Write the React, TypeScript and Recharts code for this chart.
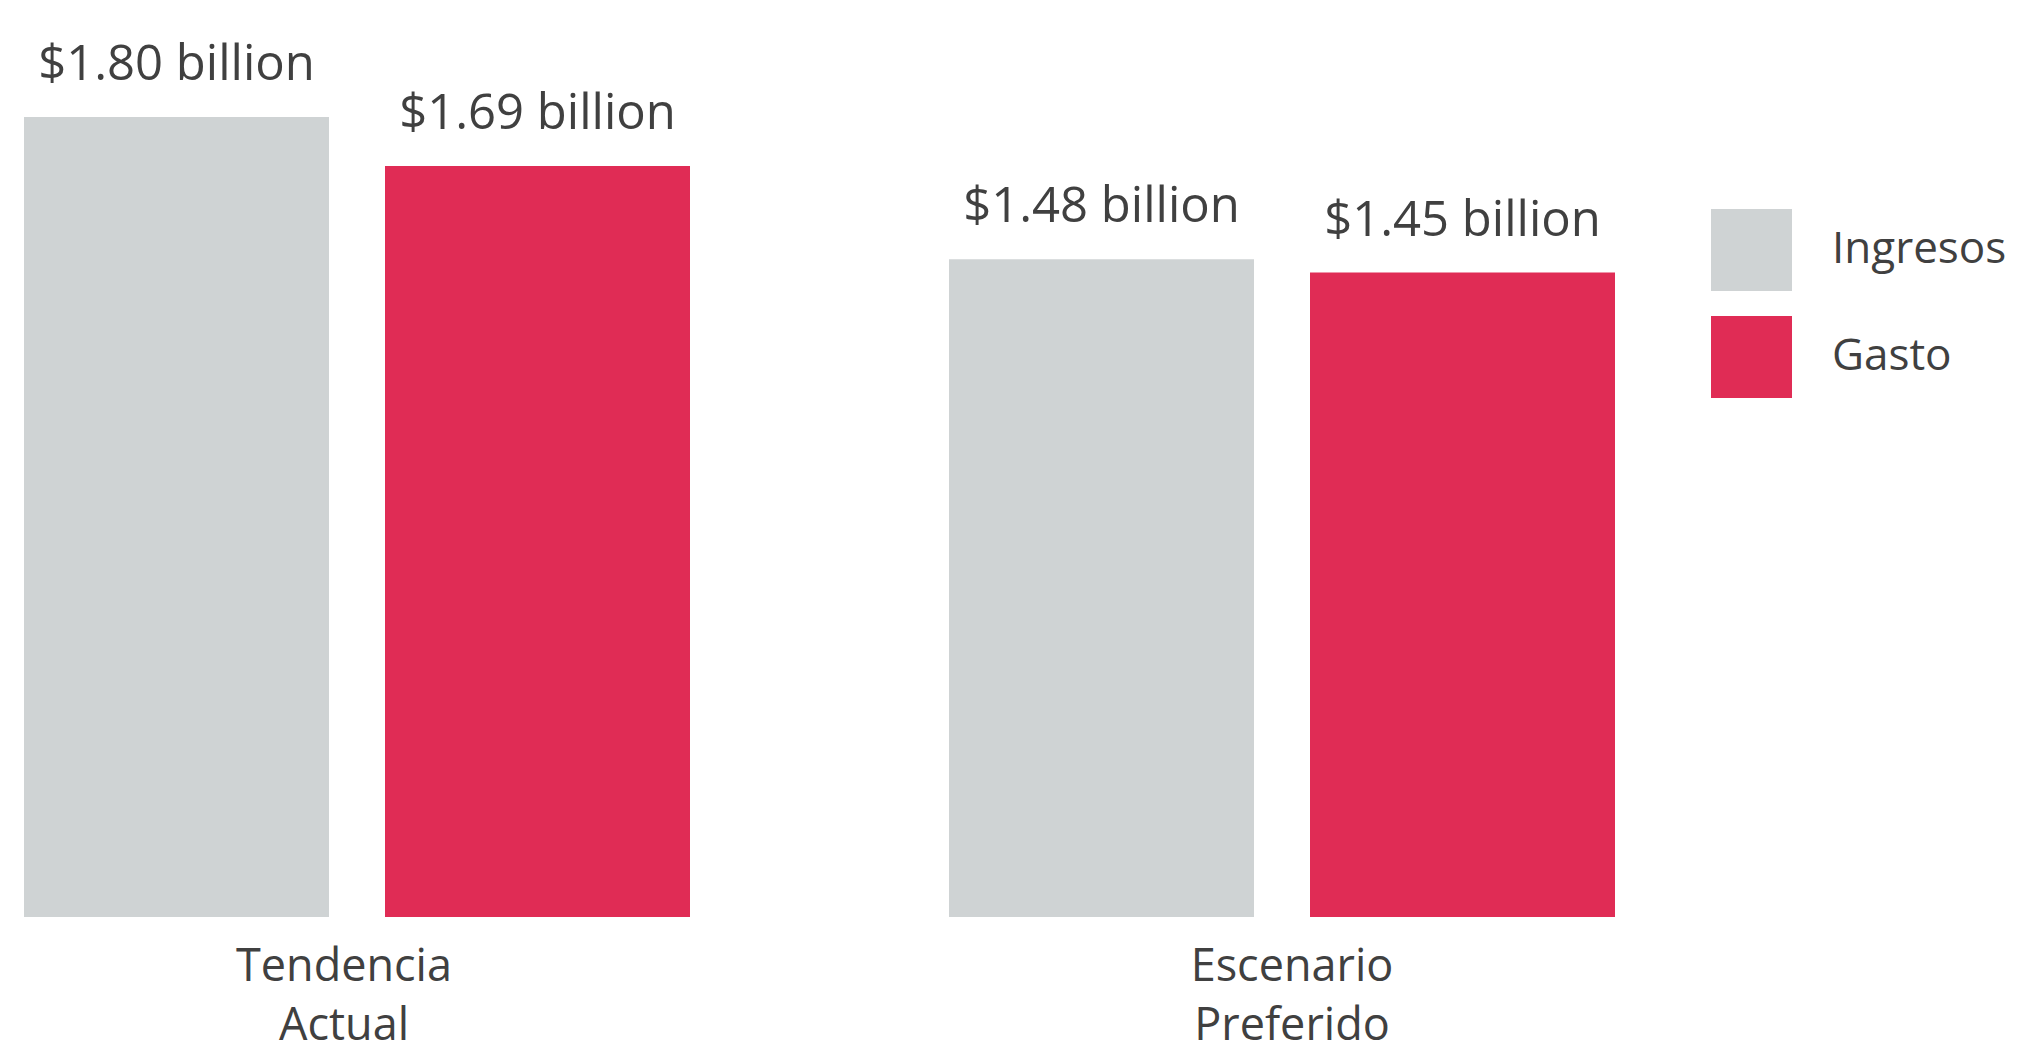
import React from 'react';
import { BarChart, Bar, XAxis, YAxis, Legend, LabelList } from 'recharts';

const categories = ['Tendencia Actual', 'Escenario Preferido'];
const seriesNames = ['Ingresos', 'Gasto'];
const ingresos = [1.8, 1.48];
const gasto = [1.69, 1.45];

const GRAY = '#CFD3D4';
const RED = '#E02C55';
const TEXT = '#404040';
const FONT = '"Open Sans", sans-serif';
// the category labels sit a little off the group centres in the original
const TICK_DX = [-13, 10];

const data = categories.map((name, i) => ({ name, ingresos: ingresos[i], gasto: gasto[i] }));

const fmt = (v: number) => `$${v.toFixed(2)} billion`;

const CategoryTick = ({
  x,
  y,
  index,
  payload,
}: {
  x?: number;
  y?: number;
  index?: number;
  payload?: { value: string };
}) => {
  const words = String(payload?.value ?? '').split(' ');
  const cx = (x ?? 0) + (TICK_DX[index ?? 0] ?? 0);
  return (
    <g>
      {words.map((w, i) => (
        <text
          key={`w-${i}`}
          x={cx}
          y={(y ?? 0) + 56 + i * 59}
          textAnchor="middle"
          fill={TEXT}
          fontFamily={FONT}
          fontSize={45}
        >
          {w}
        </text>
      ))}
    </g>
  );
};

const LegendBox = ({ payload }: { payload?: Array<{ value: string; color: string }> }) => {
  const items = [...(payload ?? [])].sort(
    (a, b) => seriesNames.indexOf(a.value) - seriesNames.indexOf(b.value),
  );
  return (
    <div style={{ fontFamily: FONT }}>
      {items.map((p, i) => (
        <div
          key={`lg-${p.value}`}
          style={{ display: 'flex', alignItems: 'center', height: 82, marginTop: i === 0 ? 0 : 25 }}
        >
          <span style={{ width: 81, height: 82, backgroundColor: p.color, display: 'inline-block' }} />
          <span
            style={{ marginLeft: 40, fontSize: 44, color: TEXT, lineHeight: '82px', position: 'relative', top: -4 }}
          >
            {p.value}
          </span>
        </div>
      ))}
    </div>
  );
};

export default function App() {
  return (
    <div style={{ position: 'fixed', left: 0, top: 0, width: 2018, height: 1045, background: '#fff', overflow: 'hidden' }}>
      <BarChart
        width={2018}
        height={1045}
        data={data}
        margin={{ top: 117, right: 273.5, bottom: 0, left: -105.5 }}
        barCategoryGap={129.5}
        barGap={56}
      >
        <XAxis
          dataKey="name"
          axisLine={false}
          tickLine={false}
          height={128}
          interval={0}
          tick={<CategoryTick />}
        />
        <YAxis hide domain={[0, 1.8]} />
        <Legend
          layout="vertical"
          align="center"
          verticalAlign="middle"
          wrapperStyle={{ left: 1711, top: 209, width: 320 }}
          content={<LegendBox />}
        />
        <Bar dataKey="ingresos" name={seriesNames[0]} fill={GRAY} isAnimationActive={false}>
          <LabelList
            dataKey="ingresos"
            position="top"
            offset={37}
            formatter={(v: number) => fmt(v)}
            fill={TEXT}
            fontFamily={FONT}
            fontSize={49}
          />
        </Bar>
        <Bar dataKey="gasto" name={seriesNames[1]} fill={RED} isAnimationActive={false}>
          <LabelList
            dataKey="gasto"
            position="top"
            offset={37}
            formatter={(v: number) => fmt(v)}
            fill={TEXT}
            fontFamily={FONT}
            fontSize={49}
          />
        </Bar>
      </BarChart>
    </div>
  );
}
